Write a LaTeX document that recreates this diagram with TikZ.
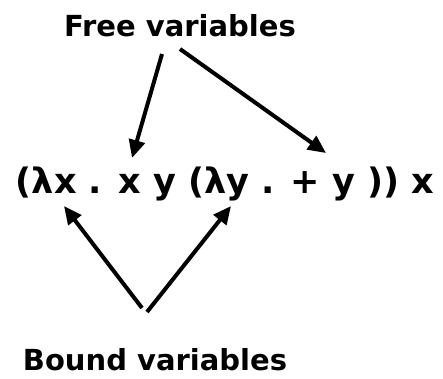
\documentclass[tikz,border=0pt]{standalone}
\usepackage{fontspec}
\setmainfont{DejaVu Sans}
\usetikzlibrary{arrows.meta}
\begin{document}
\begin{tikzpicture}[x=1pt,y=-1pt,
  lbl/.style={font=\bfseries\fontsize{29}{34}\selectfont, inner sep=0pt, anchor=base},
  expr/.style={font=\bfseries\fontsize{35}{40}\selectfont, inner sep=0pt, anchor=base},
  arr/.style={line width=4pt, -{Triangle[length=18pt,width=16pt]}}]
\useasboundingbox (0,0) rectangle (443,378);
\node[lbl] (free) at (180,36) {Free variables};
\node[expr] (lam) at (225,193) {(λx . x y (λy . + y )) x};
\node[lbl] (bound) at (155,370) {Bound variables};
\coordinate (f1s) at (162,54);
\coordinate (f1e) at (132,158);
\coordinate (f2s) at (180,49);
\coordinate (f2e) at (326,153);
\coordinate (b1s) at (142,308);
\coordinate (b1e) at (64,206);
\coordinate (b2s) at (147,312);
\coordinate (b2e) at (231,206);
\draw[arr] (f1s) -- (f1e);
\draw[arr] (f2s) -- (f2e);
\draw[arr] (b1s) -- (b1e);
\draw[arr] (b2s) -- (b2e);
\end{tikzpicture}
\end{document}
